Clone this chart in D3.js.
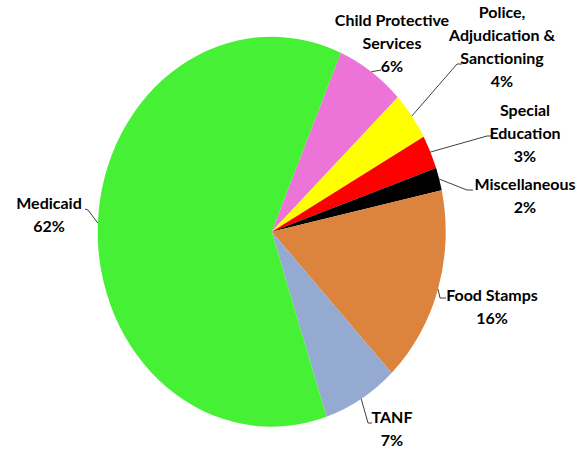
<!DOCTYPE html>
<html>
<head>
<meta charset="utf-8">
<script src="https://cdn.jsdelivr.net/npm/d3@7"></script>
<style>
	body { margin: 0; background: #fff; }
	text { font-family: Lato, "Open Sans", sans-serif; font-weight: bold; fill: #000; }
</style>
</head>
<body>
<div id="chart"></div>
<script>
// data
var categories = ["Child Protective Services", "Police, Adjudication & Sanctioning", "Special Education", "Miscellaneous", "Food Stamps", "TANF", "Medicaid"];
var shares = [6.4, 4.0, 2.8, 1.9, 16.3, 7.0, 61.6];
var colors = ["#ec74d9", "#ffff00", "#ff0000", "#000000", "#dc843e", "#94aad1", "#46f035"];
var labelLines = [["Child Protective", "Services"], ["Police,", "Adjudication &", "Sanctioning"], ["Special", "Education"], ["Miscellaneous"], ["Food Stamps"], ["TANF"], ["Medicaid"]];

// label layout: block centre x, first line centre y, leader elbow and end
var labelPos = [
	{x: 392, y: 20, elbow: [381, 70], end: [381, 70]},
	{x: 502, y: 12, elbow: [457, 64], end: [462, 64]},
	{x: 525, y: 110, elbow: [487, 136], end: [491, 136]},
	{x: 525, y: 184, elbow: [467, 190], end: [473, 190]},
	{x: 492, y: 295, elbow: [440, 298], end: [446, 298]},
	{x: 392, y: 417, elbow: [368, 423], end: [372, 423]},
	{x: 49, y: 203, elbow: [88, 210], end: [85, 209]}
];

var width = 588, height = 449;
var cx = 271.7, cy = 231.7, rx = 174, ry = 195;
var lineH = 23;

var svg = d3.select("#chart").append("svg")
	.attr("width", width)
	.attr("height", height);

var pie = d3.pie()
	.sort(null)
	.value(function(d) { return d; })
	.startAngle(23.4 * Math.PI / 180)
	.endAngle(23.4 * Math.PI / 180 + 2 * Math.PI);

var arc = d3.arc().innerRadius(0).outerRadius(rx);
var arcs = pie(shares);

var total = d3.sum(shares);

svg.append("g")
	.attr("transform", "translate(" + cx + "," + cy + ") scale(1," + (ry / rx) + ")")
	.selectAll("path")
	.data(arcs)
	.enter().append("path")
	.attr("d", arc)
	.attr("fill", function(d, i) { return colors[i]; });

// leaders
var line = d3.line();
arcs.forEach(function(a, i) {
	var mid = (a.startAngle + a.endAngle) / 2;
	var p0 = [cx + rx * Math.sin(mid), cy - ry * Math.cos(mid)];
	var lp = labelPos[i];
	svg.append("path")
		.attr("d", line([p0, lp.elbow, lp.end]))
		.attr("fill", "none")
		.attr("stroke", "#404040")
		.attr("stroke-width", 1);
});

// labels
labelLines.forEach(function(lines, i) {
	var lp = labelPos[i];
	var pct = Math.round(shares[i] / total * 100) + "%";
	var all = lines.concat([pct]);
	var t = svg.append("text")
		.attr("text-anchor", "middle")
		.attr("font-size", "16px");
	all.forEach(function(s, k) {
		t.append("tspan")
			.attr("x", lp.x)
			.attr("y", lp.y + k * lineH)
			.attr("dy", "0.35em")
			.text(s);
	});
});
</script>
</body>
</html>
